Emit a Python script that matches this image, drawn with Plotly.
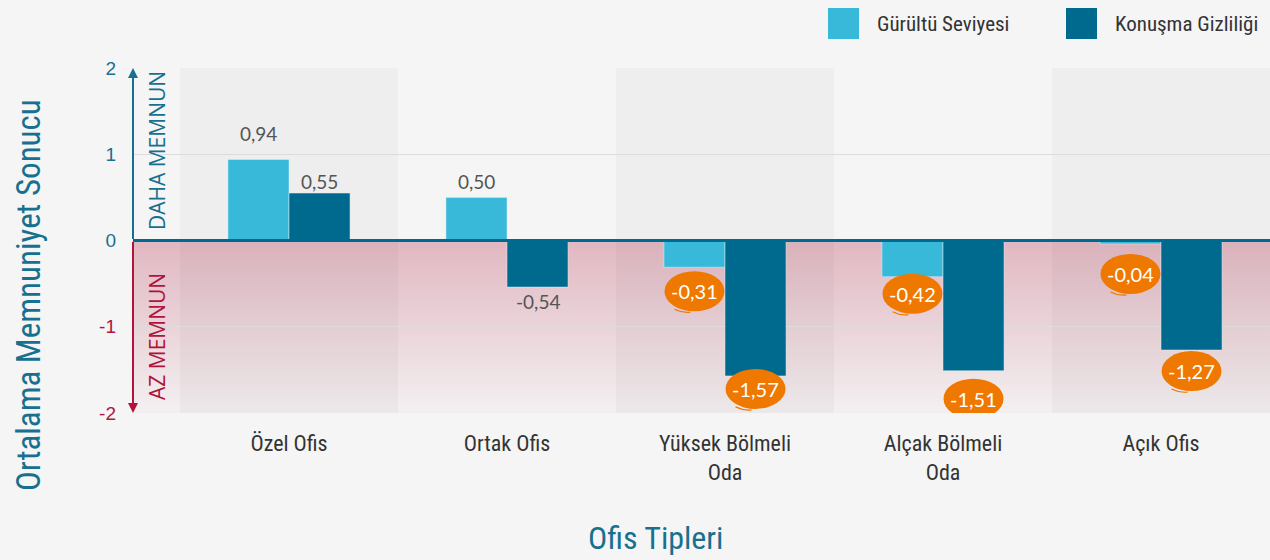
import base64
import plotly.graph_objects as go

# ---------------- data ----------------
categories = ["Özel Ofis", "Ortak Ofis", "Yüksek Bölmeli<br>Oda", "Alçak Bölmeli<br>Oda", "Açık Ofis"]
series_names = ["Gürültü Seviyesi", "Konuşma Gizliliği"]
gurultu = [0.94, 0.50, -0.31, -0.42, -0.04]
konusma = [0.55, -0.54, -1.57, -1.51, -1.27]
y_tick_values = [-2, -1, 0, 1, 2]
y_tick_labels = ["-2", "-1", "0", "1", "2"]
y_title = "Ortalama Memnuniyet Sonucu"
x_title = "Ofis Tipleri"
zone_labels = ["DAHA MEMNUN", "AZ MEMNUN"]

# ---------------- styles ----------------
C_LIGHT = "#38B9D9"
C_DARK = "#006A8E"
BLUE = "#17708F"
RED = "#B2133D"
ORANGE = "#EE7800"
GRAYTXT = "#555555"
NARROW = "Roboto"
SANS = "Open Sans, Liberation Sans, sans-serif"
LABELF = "Lato, Open Sans, sans-serif"

W, H = 1270, 560
L, R, T, B = 133, 0, 68, 147
PW, PH = W - L - R, H - T - B
BAND_PX = 218
x_hi = len(categories) - 0.5
x_lo = x_hi - PW / BAND_PX
BARGAP = 0.44
BW = (1 - BARGAP) / 2

g_off = [26, 16, 24, 17, 30]
k_off = [12, 14, 13, 28, 21]
g_blob = [False, False, True, True, True]
k_blob = [False, False, True, True, True]


def px_x(px):
    return (px - L) / PW


def px_y(py):
    return (T + PH - py) / PH


def fmt(v):
    return f"{v:.2f}".replace(".", ",")


def cond(t):
    return "<br>".join(f'<span style="font-stretch:75%">{p}</span>' for p in t.split("<br>"))


xs = list(range(len(categories)))

fig = go.Figure()
fig.add_bar(x=xs, y=gurultu, name=series_names[0], marker_color=C_LIGHT, showlegend=False)
fig.add_bar(x=xs, y=konusma, name=series_names[1], marker_color=C_DARK, showlegend=False)

shapes = []
annotations = []

for i in xs:
    if i % 2 == 0:
        shapes.append(dict(type="rect", xref="x", yref="paper", x0=i - 0.5, x1=i + 0.5, y0=0, y1=1,
                           fillcolor="rgba(0,0,0,0.028)", line_width=0, layer="below"))

svg = ('<svg xmlns="http://www.w3.org/2000/svg" width="100" height="100" viewBox="0 0 100 100" '
       'preserveAspectRatio="none"><defs><linearGradient id="g" x1="0" y1="0" x2="0" y2="1">'
       '<stop offset="0" stop-color="#E1B7C1"/><stop offset="1" stop-color="#F3F0F1"/>'
       '</linearGradient></defs><rect width="100" height="100" fill="url(#g)"/></svg>')
src = "data:image/svg+xml;base64," + base64.b64encode(svg.encode()).decode()
images = [dict(source=src, xref="paper", yref="y", x=0, y=0, sizex=1, sizey=2,
               xanchor="left", yanchor="top", sizing="stretch", layer="below")]

shapes.append(dict(type="line", xref="paper", yref="y", x0=0, x1=1, y0=0, y1=0,
                   line=dict(color=C_DARK, width=3), layer="above"))


def add_label(x, v, off, blob):
    sign = 1 if v >= 0 else -1
    shift = sign * off
    if blob:
        shapes.append(dict(type="circle", xref="x", yref="y", xsizemode="pixel", ysizemode="pixel",
                           xanchor=x, yanchor=v, x0=-30, x1=30, y0=shift - 20, y1=shift + 20,
                           fillcolor=ORANGE, line_width=0, layer="above"))
        shapes.append(dict(type="path", xref="x", yref="y", xsizemode="pixel", ysizemode="pixel",
                           xanchor=x, yanchor=v,
                           path=f"M -20,{shift - 18} Q -12,{shift - 22} -4,{shift - 21}",
                           line=dict(color=ORANGE, width=1.2), layer="above"))
        annotations.append(dict(x=x, y=v, xref="x", yref="y", text=fmt(v), showarrow=False,
                                xanchor="center", yanchor="middle",
                                yshift=shift, font=dict(family=LABELF, size=20, color="white")))
    else:
        annotations.append(dict(x=x, y=v, xref="x", yref="y", text=fmt(v), showarrow=False,
                                xanchor="center", yanchor="middle",
                                yshift=shift, font=dict(family=LABELF, size=19, color=GRAYTXT)))


for i in xs:
    add_label(i - BW / 2, gurultu[i], g_off[i], g_blob[i])
    add_label(i + BW / 2, konusma[i], k_off[i], k_blob[i])

annotations.append(dict(x=0, xref="paper", y=y_tick_values[-1], yref="y", ax=0, axref="pixel",
                        ay=0, ayref="y", showarrow=True, arrowhead=2, arrowsize=1, arrowwidth=2,
                        arrowcolor=BLUE, text=""))
annotations.append(dict(x=0, xref="paper", y=y_tick_values[0], yref="y", ax=0, axref="pixel",
                        ay=0, ayref="y", showarrow=True, arrowhead=2, arrowsize=1, arrowwidth=2,
                        arrowcolor=RED, text=""))

annotations.append(dict(x=px_x(157), y=px_y(151), xref="paper", yref="paper", text=zone_labels[0],
                        xanchor="center", yanchor="middle",
                        textangle=-90, showarrow=False, font=dict(family=SANS, size=21, color=BLUE)))
annotations.append(dict(x=px_x(157), y=px_y(337), xref="paper", yref="paper", text=zone_labels[1],
                        xanchor="center", yanchor="middle",
                        textangle=-90, showarrow=False, font=dict(family=SANS, size=21, color=RED)))

annotations.append(dict(x=px_x(28), y=px_y(295), xref="paper", yref="paper", text=cond(y_title),
                        xanchor="center", yanchor="middle", textangle=-90, showarrow=False,
                        font=dict(family=NARROW, size=33, color=BLUE)))
annotations.append(dict(x=px_x(655), y=px_y(538), xref="paper", yref="paper", text=cond(x_title),
                        xanchor="center", yanchor="middle", showarrow=False,
                        font=dict(family=NARROW, size=32, color=BLUE)))

leg = [(828, 875, C_LIGHT, series_names[0]), (1066, 1113, C_DARK, series_names[1])]
for sx, tx, col, name in leg:
    shapes.append(dict(type="rect", xref="paper", yref="paper", x0=px_x(sx), x1=px_x(sx + 31),
                       y0=px_y(39), y1=px_y(8), fillcolor=col, line_width=0))
    annotations.append(dict(x=px_x(tx), y=px_y(24), xref="paper", yref="paper", text=cond(name),
                            xanchor="left", yanchor="middle", showarrow=False,
                            font=dict(family=NARROW, size=21, color="#333333")))

tick_text = []
for v, t in zip(y_tick_values, y_tick_labels):
    c = RED if v < 0 else BLUE
    tick_text.append(f'<span style="color:{c}">{t}</span>')

fig.update_layout(
    width=W, height=H,
    margin=dict(l=L, r=R, t=T, b=B, pad=0),
    paper_bgcolor="#F5F5F5",
    plot_bgcolor="rgba(0,0,0,0)",
    barmode="group",
    bargap=BARGAP,
    bargroupgap=0,
    showlegend=False,
    shapes=shapes,
    annotations=annotations,
    images=images,
    xaxis=dict(range=[x_lo, x_hi], tickvals=xs, ticktext=[cond(c) for c in categories], showgrid=False,
               zeroline=False, showline=False, ticks="", ticklabelstandoff=15,
               tickfont=dict(family=NARROW, size=22, color="#333333"), fixedrange=True),
    yaxis=dict(range=[y_tick_values[0], y_tick_values[-1]], tickvals=y_tick_values, ticktext=tick_text,
               showgrid=True, gridcolor="#DCDCDC", gridwidth=1, zeroline=False, showline=False,
               ticks="", ticklabelstandoff=16, tickfont=dict(family="Liberation Sans, Arial, sans-serif",
                                                            size=19, color=BLUE),
               fixedrange=True),
)

fig.write_html("out.html")
